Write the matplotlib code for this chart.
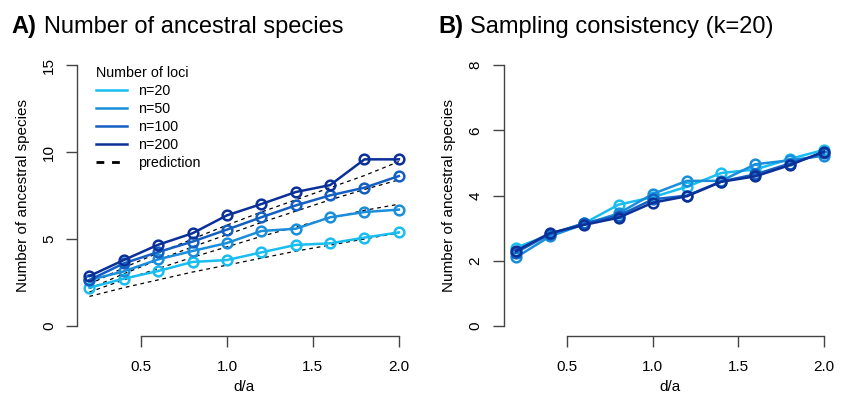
import numpy as np
import matplotlib
matplotlib.use("Agg")
import matplotlib.pyplot as plt
from matplotlib.lines import Line2D

plt.rcParams['font.family'] = ['Liberation Sans', 'DejaVu Sans']

# d/a values shared by both panels
da = [0.2, 0.4, 0.6, 0.8, 1.0, 1.2, 1.4, 1.6, 1.8, 2.0]

loci = ["n=20", "n=50", "n=100", "n=200"]
colors = ["#19BDF0", "#1A8EDB", "#145FC2", "#0B3199"]

# panel A: observed number of ancestral species
obs_20 = [2.20, 2.72, 3.16, 3.68, 3.79, 4.23, 4.66, 4.75, 5.08, 5.38]
obs_50 = [2.64, 3.14, 3.83, 4.31, 4.77, 5.46, 5.59, 6.25, 6.55, 6.69]
obs_100 = [2.64, 3.60, 4.25, 4.85, 5.54, 6.25, 6.93, 7.51, 7.95, 8.62]
obs_200 = [2.87, 3.79, 4.67, 5.33, 6.36, 7.01, 7.70, 8.10, 9.58, 9.58]

# panel A: predicted values
pred_20 = [1.70, 2.20, 2.65, 3.10, 3.50, 3.90, 4.30, 4.65, 5.00, 5.35]
pred_50 = [1.95, 2.65, 3.30, 3.95, 4.55, 5.15, 5.70, 6.20, 6.65, 7.00]
pred_100 = [2.15, 3.00, 3.80, 4.55, 5.25, 5.95, 6.60, 7.25, 7.85, 8.40]
pred_200 = [2.40, 3.35, 4.20, 5.00, 5.80, 6.55, 7.25, 7.95, 8.65, 9.45]

# panel B: repeated sampling with k=20
cons_20 = [2.40, 2.80, 3.15, 3.72, 3.95, 4.27, 4.69, 4.80, 5.12, 5.40]
cons_50 = [2.10, 2.75, 3.12, 3.45, 4.05, 4.45, 4.45, 4.96, 5.08, 5.22]
cons_100 = [2.25, 2.82, 3.15, 3.38, 3.88, 4.00, 4.43, 4.65, 4.98, 5.30]
cons_200 = [2.30, 2.85, 3.10, 3.32, 3.78, 3.98, 4.42, 4.59, 4.93, 5.35]

obs = [obs_20, obs_50, obs_100, obs_200]
pred = [pred_20, pred_50, pred_100, pred_200]
cons = [cons_20, cons_50, cons_100, cons_200]

fig = plt.figure(figsize=(8.41, 3.96), dpi=100)
axA = fig.add_axes([0.0916, 0.1505, 0.3974, 0.7115])
axB = fig.add_axes([0.5987, 0.1505, 0.3957, 0.7115])


def r_style(ax, yticks):
    # base-R like axes: open box, axis lines only over the tick range
    for s in ["top", "right"]:
        ax.spines[s].set_visible(False)
    for s in ["left", "bottom"]:
        ax.spines[s].set_color("#444444")
        ax.spines[s].set_linewidth(1.0)
    ax.set_xlim(0.128, 2.072)
    pad = (yticks[-1] - yticks[0]) * 0.04
    ax.set_ylim(yticks[0] - pad, yticks[-1] + pad)
    ax.set_xticks([0.5, 1.0, 1.5, 2.0])
    ax.set_xticklabels(["0.5", "1.0", "1.5", "2.0"])
    ax.set_yticks(yticks)
    ax.set_yticklabels([str(t) for t in yticks], rotation=90, va="center")
    ax.spines["left"].set_bounds(yticks[0], yticks[-1])
    ax.spines["bottom"].set_bounds(0.5, 2.0)
    ax.tick_params(length=8, width=1.0, color="#444444", labelsize=11)
    ax.tick_params(axis="x", pad=9)
    ax.tick_params(axis="y", pad=7)
    ax.set_xlabel("d/a", fontsize=11, labelpad=4)
    ax.set_ylabel("Number of ancestral species", fontsize=11, labelpad=9)


for p in pred:
    axA.plot(da, p, color="black", lw=0.9, ls=(0, (3, 3)))
for o, c, lab in zip(obs, colors, loci):
    axA.plot(da, o, color=c, lw=1.8, marker="o", ms=7, mfc="none",
             mew=1.8, label=lab)
r_style(axA, [0, 5, 10, 15])

# legend handles: plain lines plus the dashed prediction
handles = [Line2D([], [], color=c, lw=1.8) for c in colors]
handles.append(Line2D([], [], color="black", lw=2.0, ls=(0, (2.8, 2.8))))
leg = axA.legend(handles, loci + ["prediction"], title="Number of loci",
                 loc="upper left", bbox_to_anchor=(0.018, 1.005), frameon=False,
                 fontsize=10.3, title_fontsize=10.3, handlelength=2.2,
                 handletextpad=0.75, labelspacing=0.28, alignment="left")

for v, c in zip(cons, colors):
    axB.plot(da, v, color=c, lw=1.8, marker="o", ms=7, mfc="none", mew=1.8)
r_style(axB, [0, 2, 4, 6, 8])

fig.text(0.014, 0.917, "A)", fontsize=17, fontweight="bold", va="baseline")
fig.text(0.0518, 0.917, "Number of ancestral species", fontsize=17, va="baseline")
fig.text(0.521, 0.917, "B)", fontsize=17, fontweight="bold", va="baseline")
fig.text(0.5584, 0.917, "Sampling consistency (k=20)", fontsize=17, va="baseline")

fig.savefig("out.png", dpi=100)
